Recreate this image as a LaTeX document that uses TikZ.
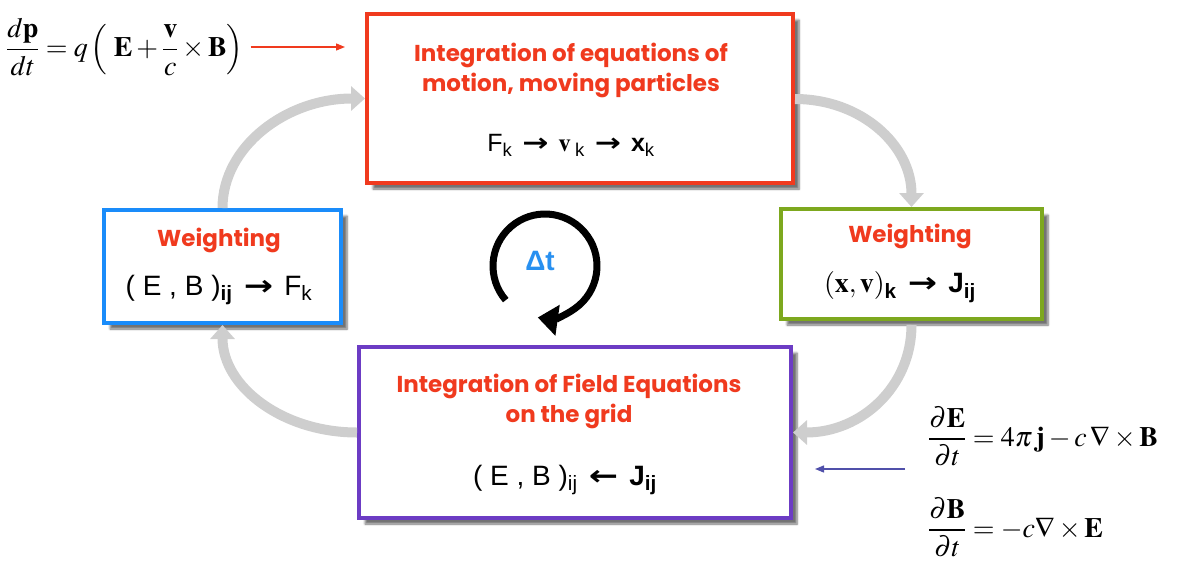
\documentclass[tikz,border=0pt]{standalone}
\usepackage{amsmath}
\usepackage{mathptmx}
\usepackage[no-math]{fontspec}
\setmainfont{Liberation Sans}
\newfontfamily\gothic{Poppins}
\newfontfamily\arrowfont{DejaVu Sans}
\usepackage{xcolor}
\usepackage{tikz}
\usetikzlibrary{positioning, arrows.meta, shadows.blur}

\definecolor{boxred}{RGB}{240,58,30}
\definecolor{boxblue}{RGB}{26,140,250}
\definecolor{boxgreen}{RGB}{125,168,30}
\definecolor{boxpurple}{RGB}{108,60,196}
\definecolor{cyclegray}{RGB}{206,206,206}
\definecolor{dtblue}{RGB}{40,144,240}
\definecolor{eqblue}{RGB}{80,80,170}

\newcommand{\goes}{\hspace{0.4em}{\arrowfont\bfseries\scalebox{1.25}[1]{→}}\hspace{0.4em}}
\newcommand{\comes}{\hspace{0.4em}{\arrowfont\bfseries\scalebox{1.25}[1]{←}}\hspace{0.4em}}

\begin{document}
\begin{tikzpicture}[
  x=1pt, y=-1pt,
  stage/.style={draw, line width=4pt, fill=white, inner sep=0pt,
    blur shadow={shadow xshift=6pt, shadow yshift=-6pt,
      shadow opacity=55, shadow blur steps=6}},
  head/.style={text=boxred, align=center,
    font=\gothic\bfseries\fontsize{23}{30}\selectfont},
  formula/.style={inner sep=0pt, font=\fontsize{25}{29}\selectfont},
  bigformula/.style={formula, font=\fontsize{28}{32}\selectfont},
  law/.style={inner sep=0pt, anchor=west, font=\fontsize{28}{32}\selectfont},
  cyclearrow/.style={cyclegray, line width=10pt,
    -{Triangle[width=24pt, length=14pt]}},
]
  \useasboundingbox (0,0) rectangle (1198,565);

  % Stage boxes
  \node[stage, draw=boxred, minimum width=426pt, minimum height=169pt]
    (move) at (580,98.5) {};
  \node[stage, draw=boxblue, minimum width=237pt, minimum height=113pt]
    (wleft) at (222.5,266.5) {};
  \node[stage, draw=boxgreen, minimum width=261pt, minimum height=110pt]
    (wright) at (911.5,264) {};
  \node[stage, draw=boxpurple, minimum width=432pt, minimum height=171pt]
    (fields) at (575,432.5) {};

  % Box texts
  \node[head] (moveT) at (571,70) {Integration of equations of\\motion, moving particles};
  \node[formula] (moveF) at (571,145)
    {F\textsubscript{k}\goes$\mathbf{v}$\,\textsubscript{k}\goes\textbf{x}\textsubscript{k}};

  \node[head] (wleftT) at (219,240) {Weighting};
  \node[bigformula] (wleftF) at (219,290)
    {( E , B )\textsubscript{\textbf{ij}}\goes F\textsubscript{k}};

  \node[head] (wrightT) at (910,236) {Weighting};
  \node[bigformula] (wrightF) at (900,287)
    {$(\mathbf{x},\mathbf{v})$\textsubscript{\textbf{k}}\goes\textbf{J}\textsubscript{\textbf{ij}}};

  \node[head] (fieldsT) at (569,401) {Integration of Field Equations\\on the grid};
  \node[bigformula] (fieldsF) at (565,480)
    {( E , B )\textsubscript{ij}\comes\textbf{J}\textsubscript{\textbf{ij}}};

  % Cycle arrows
  \draw[cyclearrow] ([yshift=-0.5pt]move.east) .. controls +(66,0) and +(0,-62) .. (wright.north);
  \draw[cyclearrow] ([yshift=-4pt]wright.south) .. controls +(0,62) and +(68,0) .. (fields.east);
  \draw[cyclearrow] (fields.west) .. controls +(-74,0) and +(0,62) .. (wleft.south);
  \draw[cyclearrow] (wleft.north) .. controls +(0,-62) and +(-78,0) .. (move.west);

  % Time step
  \coordinate (dtc) at (545,266);
  \node[text=dtblue, font=\bfseries\fontsize{28}{32}\selectfont] (dt) at (540,261) {Δt};
  \draw[line width=7pt, -{Triangle[width=30pt, length=20pt]}]
    (dtc) ++(139:52) arc[start angle=139, end angle=458, radius=52];

  % Equations
  \node[law] (lorentz) at (6,47)
    {$\displaystyle\frac{d\mathbf{p}}{dt} = q\left(\;\mathbf{E}+\frac{\mathbf{v}}{c}\times\mathbf{B}\right)$};
  \node[law] (maxE) at (928,436)
    {$\displaystyle\frac{\partial\mathbf{E}}{\partial t} = 4\pi\,\mathbf{j}-c\,\nabla\times\mathbf{B}$};
  \node[law] (maxB) at (928,527)
    {$\displaystyle\frac{\partial\mathbf{B}}{\partial t} = -c\nabla\times\mathbf{E}$};

  \draw[boxred, line width=1.3pt, -{Triangle[width=7pt, length=9pt]},
    shorten <=7pt, shorten >=20pt] (lorentz.east) -- (lorentz.east -| move.west);
  \coordinate (fieldsin) at (905,469);
  \draw[eqblue, line width=1.3pt, -{Triangle[width=7pt, length=9pt]},
    shorten >=22pt] (fieldsin) -- (fieldsin -| fields.east);

\end{tikzpicture}
\end{document}
